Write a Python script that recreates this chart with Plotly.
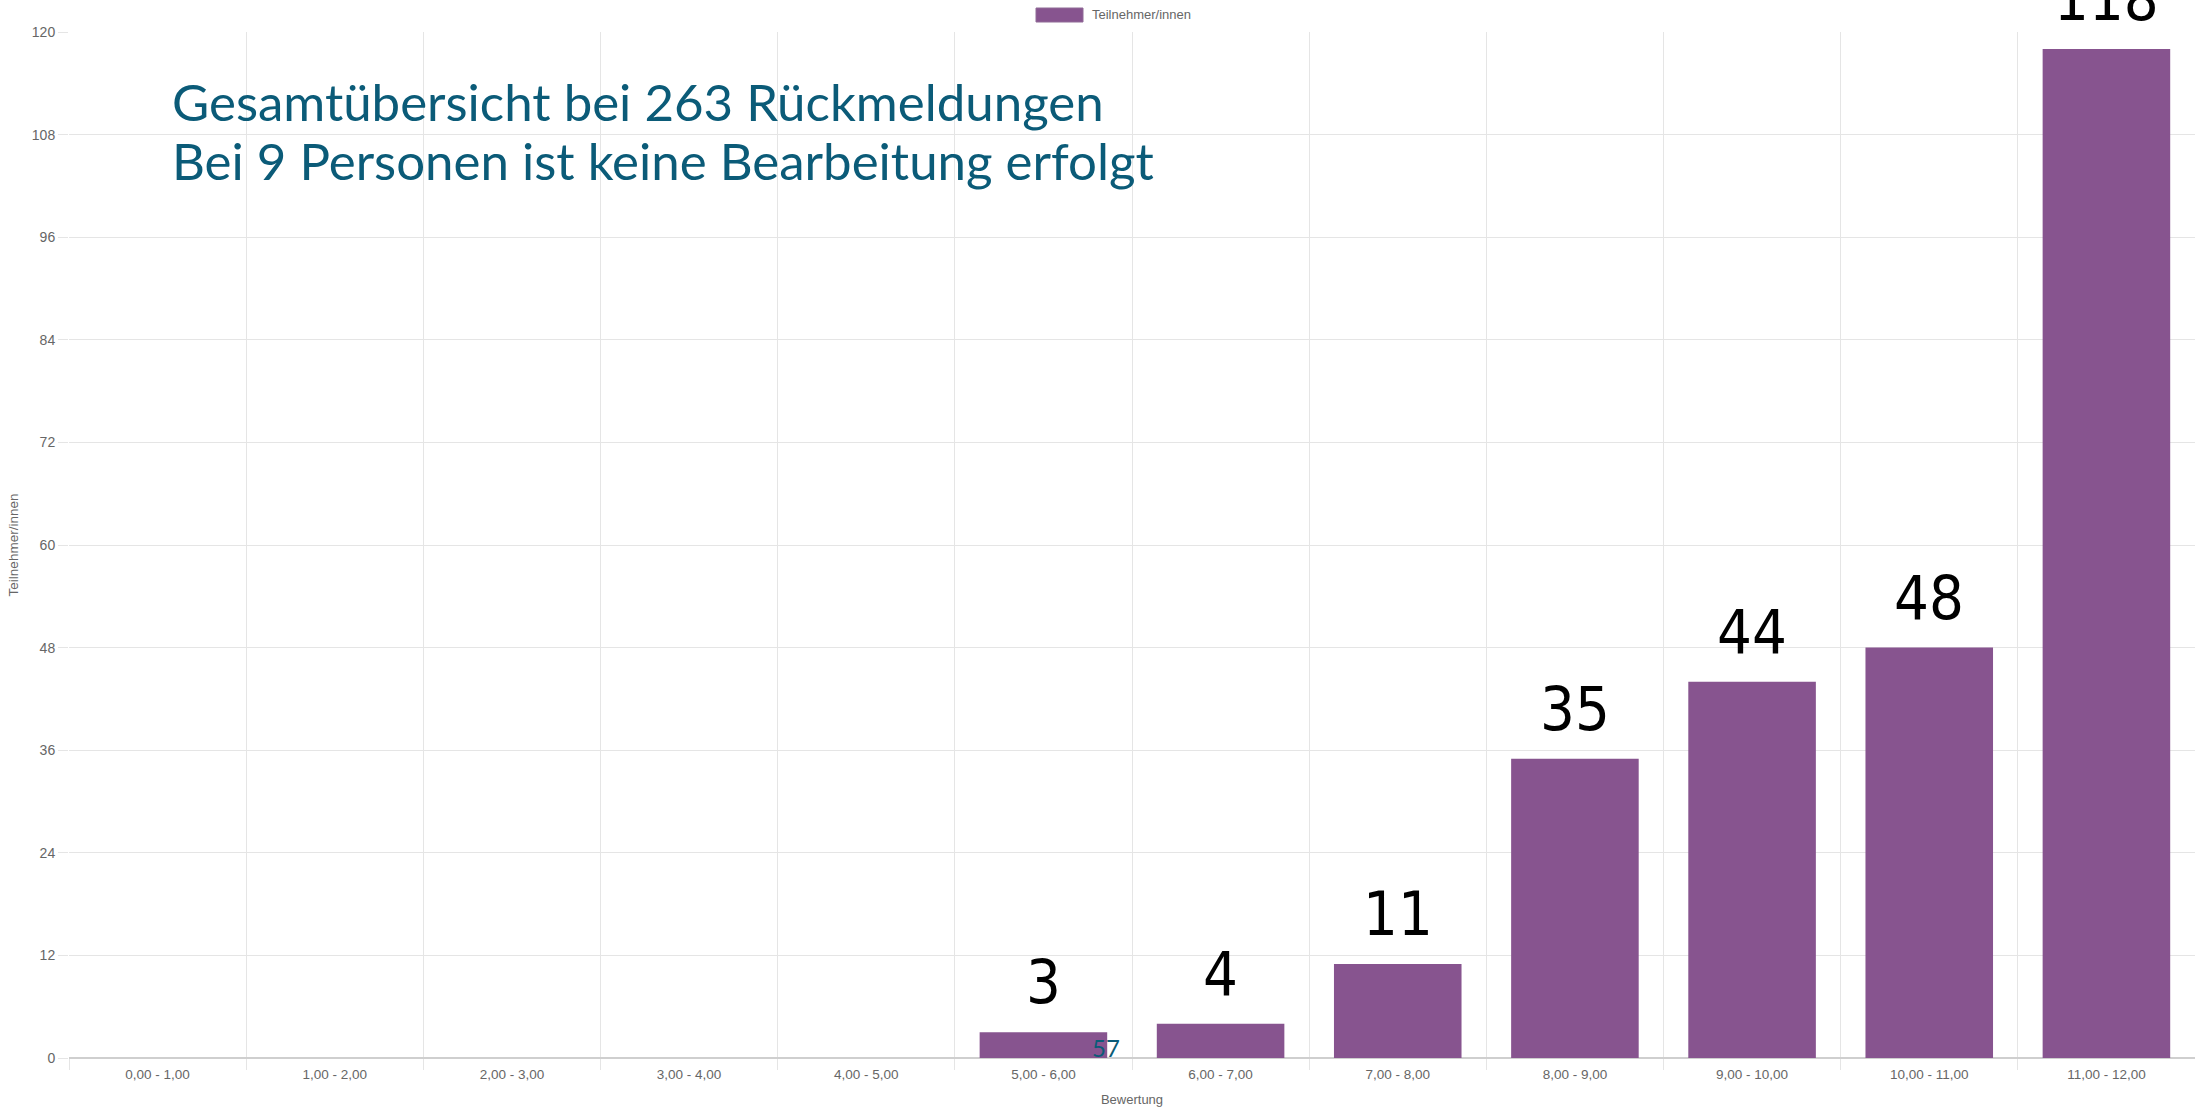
import plotly.graph_objects as go

categories = ["0,00 - 1,00", "1,00 - 2,00", "2,00 - 3,00", "3,00 - 4,00", "4,00 - 5,00",
              "5,00 - 6,00", "6,00 - 7,00", "7,00 - 8,00", "8,00 - 9,00", "9,00 - 10,00",
              "10,00 - 11,00", "11,00 - 12,00"]
participants = [0, 0, 0, 0, 0, 3, 4, 11, 35, 44, 48, 118]
y_ticks = [0, 12, 24, 36, 48, 60, 72, 84, 96, 108, 120]
series_name = "Teilnehmer/innen"
title_lines = ["Gesamtübersicht bei 263 Rückmeldungen",
               "Bei 9 Personen ist keine Bearbeitung erfolgt"]
side_note = "57"

W, H = 2195, 1107
ML, MR, MT, MB = 69, 0, 32, 49
PW = W - ML - MR
PH = H - MT - MB

def px_x(px):
    return (px - ML) / PW

def px_y(py):
    return (H - MB - py) / PH

BAR = "#87548f"
GRID = "#e5e5e5"
SANS = "Liberation Sans, Arial, sans-serif"
TEAL = "#0b5b78"

fig = go.Figure()
fig.add_trace(go.Bar(
    x=categories, y=participants, name=series_name,
    marker=dict(color=BAR, line=dict(width=0)),
    showlegend=False,
))

# value labels
for c, v in zip(categories, participants):
    if v > 0:
        fig.add_annotation(
            x=c, y=v, xref="x", yref="y", text=str(v), showarrow=False,
            yanchor="bottom", yshift=13,
            font=dict(family="Liberation Sans Narrow, DejaVu Sans Condensed, sans-serif",
                      size=61, color="#000000"),
        )

# title lines
fig.add_annotation(xref="paper", yref="paper", x=px_x(170), y=px_y(101),
                   xanchor="left", yanchor="middle", text=title_lines[0], showarrow=False,
                   font=dict(family="Lato, sans-serif", size=51, color=TEAL))
fig.add_annotation(xref="paper", yref="paper", x=px_x(170), y=px_y(160),
                   xanchor="left", yanchor="middle", text=title_lines[1], showarrow=False,
                   font=dict(family="Lato, sans-serif", size=51, color=TEAL))

# small note
fig.add_annotation(xref="paper", yref="paper", x=px_x(1106), y=px_y(1047),
                   xanchor="center", yanchor="middle", text=side_note, showarrow=False,
                   font=dict(family="Lato, sans-serif", size=24, color=TEAL))

# custom legend
fig.add_shape(type="rect", xref="paper", yref="paper",
              x0=px_x(1036), x1=px_x(1083), y0=px_y(22), y1=px_y(8),
              fillcolor=BAR, line=dict(color="#8f6a96", width=1))
fig.add_annotation(xref="paper", yref="paper", x=px_x(1090), y=px_y(15),
                   xanchor="left", yanchor="middle", text=series_name, showarrow=False,
                   font=dict(family=SANS, size=13, color="#666666"))

fig.update_layout(
    width=W, height=H,
    margin=dict(l=ML, r=MR, t=MT, b=MB, autoexpand=False),
    paper_bgcolor="white", plot_bgcolor="white",
    bargap=0.28,
    showlegend=False,
    font=dict(family=SANS, color="#666666"),
)
fig.update_xaxes(
    type="category", categoryorder="array", categoryarray=categories,
    tickson="boundaries", showgrid=True, gridcolor=GRID, gridwidth=1,
    ticks="outside", ticklen=11, tickcolor=GRID,
    tickfont=dict(family=SANS, size=13.5, color="#666666"),
    ticklabelstandoff=6,
    showline=False, zeroline=False,
    title=dict(text="Bewertung", font=dict(family=SANS, size=13, color="#666666"), standoff=19),
    automargin=False,
)
fig.update_yaxes(
    range=[0, 120], tickvals=y_ticks, showgrid=True, gridcolor=GRID, gridwidth=1,
    ticks="outside", ticklen=10, tickcolor=GRID,
    tickfont=dict(family=SANS, size=14, color="#666666"),
    zeroline=True, zerolinecolor="#cfcfcf", zerolinewidth=2,
    showline=False,
    title=dict(text=series_name, font=dict(family=SANS, size=13.5, color="#666666"), standoff=10),
    automargin=False,
)

fig.write_html("out.html", config={"displayModeBar": False},
               post_script="document.body.style.margin='0';")
